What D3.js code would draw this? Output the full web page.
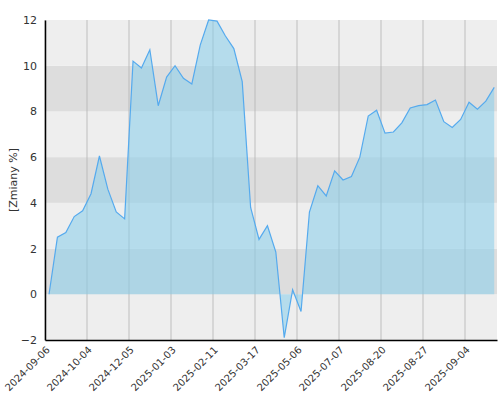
<!DOCTYPE html><html><head><meta charset="utf-8"><script src="https://cdn.jsdelivr.net/npm/d3@7"></script>
<style>body{margin:0;background:#fff}</style></head><body><svg id="c" width="500" height="400"></svg><script>
const values=[0,2.5,2.7,3.4,3.65,4.4,6.05,4.6,3.6,3.3,10.2,9.9,10.7,8.25,9.5,10.0,9.45,9.2,10.9,12.0,11.95,11.3,10.75,9.3,3.8,2.4,3.0,1.85,-1.9,0.2,-0.75,3.6,4.75,4.3,5.4,5.0,5.15,6.0,7.8,8.05,7.05,7.1,7.5,8.15,8.25,8.3,8.5,7.55,7.3,7.65,8.4,8.1,8.45,9.05];
const tickLabels=["2024-09-06","2024-10-04","2024-12-05","2025-01-03","2025-02-11","2025-03-17","2025-05-06","2025-07-07","2025-08-20","2025-08-27","2025-09-04"];
const yTicks=[-2,0,2,4,6,8,10,12];
const svg=d3.select("#c");
const L=45,R=497,T=20,B=340;
const x=d3.scaleLinear().domain([-0.48,53.33]).range([L,R]);
const y=d3.scaleLinear().domain([-2,12]).range([B,T]);
for(let v=-2;v<12;v+=2){svg.append("rect").attr("x",L).attr("width",R-L).attr("y",y(v+2)).attr("height",y(v)-y(v+2)).attr("fill",(v/2)%2===0?"#dddddd":"#eeeeee");}
const tickIdx=tickLabels.map((d,i)=>-0.48+5*i);
svg.selectAll(".g").data(tickIdx).enter().append("line").attr("x1",d=>x(d)).attr("x2",d=>x(d)).attr("y1",T).attr("y2",B).attr("stroke","#b4b4b4").attr("stroke-width",0.8);
svg.append("path").datum(values).attr("fill","rgba(135,206,235,0.55)").attr("d",d3.area().x((d,i)=>x(i)).y0(y(0)).y1(d=>y(d)));
svg.append("path").datum(values).attr("fill","none").attr("stroke","#55aaee").attr("stroke-width",1.2).attr("d",d3.line().x((d,i)=>x(i)).y(d=>y(d)));
const ya=svg.append("g").attr("transform",`translate(${L},0)`).call(d3.axisLeft(y).tickValues(yTicks).tickSize(0).tickPadding(8));
ya.selectAll("text").attr("font-family","DejaVu Sans").attr("font-size",11).attr("fill","#333");
ya.select(".domain").attr("stroke","#000").attr("stroke-width",1.5);
const xa=svg.append("g").attr("transform",`translate(0,${B})`).call(d3.axisBottom(x).tickValues(tickIdx).tickFormat((d,i)=>tickLabels[i]).tickSize(0).tickPadding(6));
xa.select(".domain").attr("stroke","#000").attr("stroke-width",1.5);
xa.selectAll("text").attr("font-family","DejaVu Sans").attr("font-size",10).attr("fill","#333").attr("text-anchor","end").attr("transform","rotate(-45) translate(-4,0)").attr("dy","0.5em");
svg.append("text").attr("transform",`translate(17,${(T+B)/2}) rotate(-90)`).attr("text-anchor","middle").attr("font-family","DejaVu Sans").attr("font-size",11).attr("fill","#333").text("[Zmiany %]");
</script></body></html>
